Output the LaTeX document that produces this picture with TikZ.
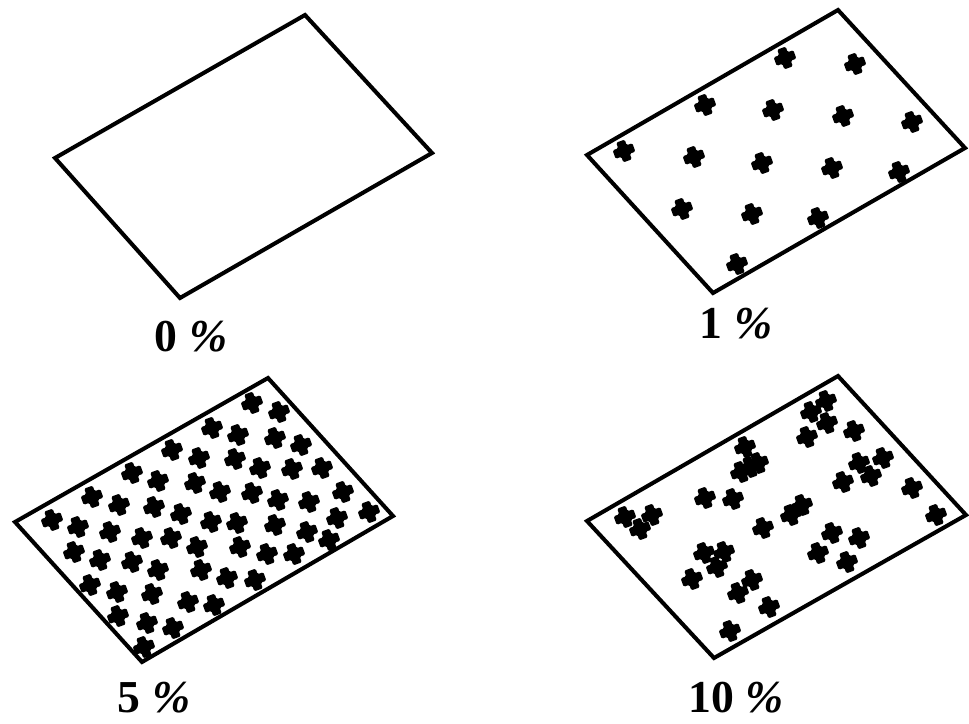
\documentclass[tikz,border=0pt]{standalone}
\usepackage{fontspec}
\setmainfont{Liberation Serif}
\usepackage{tikz}
\usetikzlibrary{positioning}

\tikzset{
    frame/.style={line width=2.3pt, line join=miter},
    pct/.style={font=\fontsize{26}{30}\selectfont\bfseries, inner sep=0pt},
    grain/.pic={
        \fill[black, rounded corners=0.8pt, rotate=20]
            (-4.5,-10.5) -- (4.5,-10.5) -- (4.5,-4.5) -- (10.5,-4.5) -- (10.5,4.5) -- (4.5,4.5)
            -- (4.5,10.5) -- (-4.5,10.5) -- (-4.5,4.5) -- (-10.5,4.5) -- (-10.5,-4.5) -- (-4.5,-4.5) -- cycle;
        \fill[black] (0,0) circle (6.8);
    }
}

\begin{document}
\begin{tikzpicture}[x=0.02cm, y=-0.02cm]
    \useasboundingbox (0,0) rectangle (969,723);

    % Panel 0 %
    \coordinate (A1) at (55,158);
    \coordinate (A2) at (305,15);
    \coordinate (A3) at (432,153);
    \coordinate (A4) at (180,298);
    \draw[frame] (A1) -- (A2) -- (A3) -- (A4) -- cycle;
    \node[pct] (L0) at (191,337) {0 \textit{\%}};

    % Panel 1 %
    \coordinate (B1) at (587,155);
    \coordinate (B2) at (838,10);
    \coordinate (B3) at (965,148);
    \coordinate (B4) at (713,293);
    \draw[frame] (B1) -- (B2) -- (B3) -- (B4) -- cycle;
    \foreach \x/\y in {624/151, 705/105, 785/58, 855/64, 694/157, 773/110, 843/116, 912/122,
                       762/163, 832/168, 899/172, 682/209, 752/214, 818/218, 737/264}
        \pic at (\x,\y) {grain};
    \node[pct] (L1) at (736,324) {1 \textit{\%}};

    % Panel 5 %
    \coordinate (C1) at (15,522);
    \coordinate (C2) at (268,378);
    \coordinate (C3) at (393,516);
    \coordinate (C4) at (142,662);
    \draw[frame] (C1) -- (C2) -- (C3) -- (C4) -- cycle;
    \foreach \x/\y in {252/403, 279/412, 212/428, 238/435, 275/438, 301/445,
                       172/450, 199/458, 235/459, 260/468, 292/469, 322/468,
                       132/473, 158/481, 195/483, 220/492, 252/493, 278/500, 309/502, 343/492,
                       92/497, 119/505, 154/507, 181/514, 211/522, 237/523, 275/525, 307/532, 337/518, 369/512,
                       52/520, 78/527, 110/532, 142/538, 171/538, 197/547, 240/547, 267/554, 294/554, 329/540,
                       74/552, 100/560, 132/562, 158/570, 201/570, 227/578, 255/580,
                       90/585, 117/592, 152/594, 188/602, 214/605,
                       118/616, 147/623, 173/628, 144/647}
        \pic at (\x,\y) {grain};
    \node[pct] (L5) at (154,698) {5 \textit{\%}};

    % Panel 10 %
    \coordinate (D1) at (587,521);
    \coordinate (D2) at (838,376);
    \coordinate (D3) at (966,515);
    \coordinate (D4) at (714,658);
    \draw[frame] (D1) -- (D2) -- (D3) -- (D4) -- cycle;
    \foreach \x/\y in {826/401, 811/412, 827/423, 807/437, 854/431,
                       745/447, 758/463, 750/467, 741/472,
                       859/463, 883/458, 871/476, 843/482, 912/488, 936/515,
                       625/517, 652/515, 640/529, 705/498, 733/499, 763/528,
                       791/515, 802/505, 832/533, 859/538, 818/553, 847/562,
                       704/553, 724/552, 717/567, 692/579, 752/580, 738/593,
                       769/607, 730/631}
        \pic at (\x,\y) {grain};
    \node[pct] (L10) at (736,698) {10 \textit{\%}};
\end{tikzpicture}
\end{document}
